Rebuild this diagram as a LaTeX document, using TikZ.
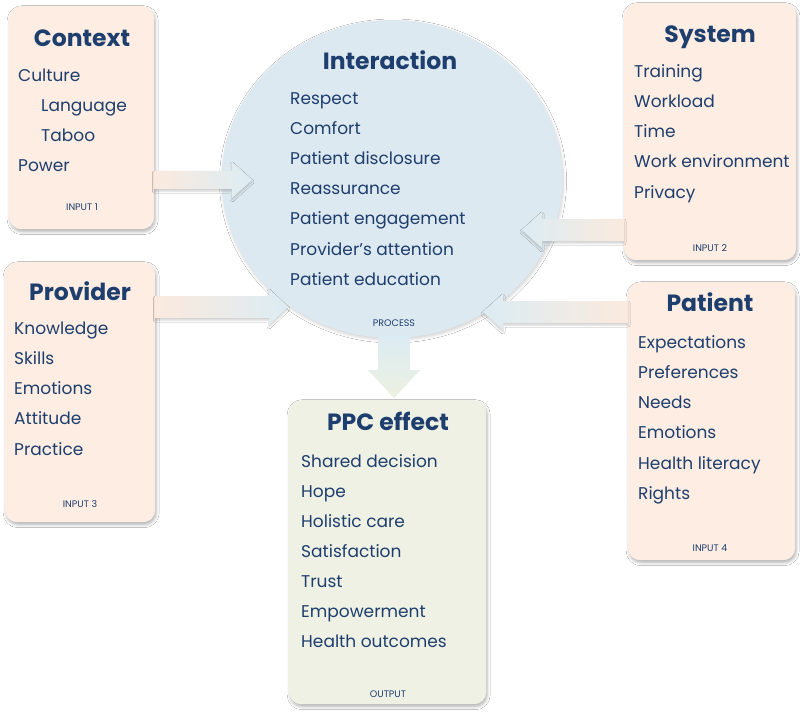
\documentclass[tikz,border=0pt]{standalone}
\usepackage{fontspec}
\setmainfont{Poppins}
\usetikzlibrary{shapes.geometric,shadows.blur,calc}
\definecolor{navy}{RGB}{30,62,110}
\definecolor{peach}{RGB}{253,237,226}
\definecolor{circ}{RGB}{221,233,240}
\definecolor{green}{RGB}{238,241,228}
\definecolor{peachA}{RGB}{251,234,222}
\definecolor{blueA}{RGB}{220,236,243}
\definecolor{greenA}{RGB}{236,240,224}
\tikzset{
  box/.style={draw=none, rounded corners=12pt, anchor=north west, inner sep=0pt,
    blur shadow={shadow xshift=1pt, shadow yshift=-2.5pt, shadow blur radius=3pt, shadow opacity=30}},
  ashadow/.style={blur shadow={shadow xshift=0pt, shadow yshift=-2pt, shadow blur radius=2pt, shadow opacity=20}},
  item/.style={anchor=base west, inner sep=0pt, text=navy, font=\fontsize{17}{20}\selectfont},
  ttl/.style={anchor=base, inner sep=0pt, text=navy, font=\fontsize{23.5}{28}\selectfont\bfseries},
  lbl/.style={anchor=base, inner sep=0pt, text=navy, font=\fontsize{9.5}{11}\selectfont},
}
\begin{document}
\begin{tikzpicture}[x=1pt,y=-1pt]
\useasboundingbox[fill=white] (0,0) rectangle (800,714);
% containers
\node[ellipse, fill=circ, minimum width=341pt, minimum height=318pt, inner sep=0pt,
  blur shadow={shadow xshift=1pt, shadow yshift=-2pt, shadow blur radius=3pt, shadow opacity=18}] (int) at (392,179) {};
\node[box, fill=peach, minimum width=145pt, minimum height=223pt] (ctx) at (9,6) {};
\node[box, fill=peach, minimum width=172pt, minimum height=257pt] (sys) at (624,3) {};
\node[box, fill=peach, minimum width=150pt, minimum height=260pt] (prv) at (5,262) {};
\node[box, fill=peach, minimum width=167pt, minimum height=278pt] (pat) at (628,282) {};
\node[box, fill=green, minimum width=197pt, minimum height=304pt] (ppc) at (289,400) {};
% arrow tips
\coordinate (t1) at (252,180);
\coordinate (t2) at (522,230);
\coordinate (t3) at (288,307);
\coordinate (t4) at (483,312);
\coordinate (t5) at (394,398);
\coordinate (s1) at (t1 -| ctx.east);
\coordinate (s2) at (t2 -| sys.west);
\coordinate (s3) at (t3 -| prv.east);
\coordinate (s4) at (t4 -| pat.west);
\coordinate (s5) at (394,336);
% block arrows
\path[ashadow, left color=peachA, right color=blueA]
  (s1) ++(0,-9) -- ($(t1)+(-20,-9)$) -- ($(t1)+(-20,-18)$) -- (t1) -- ($(t1)+(-20,18)$) -- ($(t1)+(-20,9)$) -- ($(s1)+(0,9)$) -- cycle;
\path[ashadow, left color=blueA, right color=peachA]
  (s2) ++(0,-11) -- ($(t2)+(20,-11)$) -- ($(t2)+(20,-18)$) -- (t2) -- ($(t2)+(20,18)$) -- ($(t2)+(20,11)$) -- ($(s2)+(0,11)$) -- cycle;
\path[ashadow, left color=peachA, right color=blueA]
  (s3) ++(0,-11) -- ($(t3)+(-19,-11)$) -- ($(t3)+(-19,-18)$) -- (t3) -- ($(t3)+(-19,18)$) -- ($(t3)+(-19,11)$) -- ($(s3)+(0,11)$) -- cycle;
\path[ashadow, left color=blueA, right color=peachA]
  (s4) ++(0,-11) -- ($(t4)+(20,-11)$) -- ($(t4)+(20,-18)$) -- (t4) -- ($(t4)+(20,18)$) -- ($(t4)+(20,11)$) -- ($(s4)+(0,11)$) -- cycle;
\path[top color=blueA, bottom color=greenA]
  (s5) ++(-16,0) -- ($(t5)+(-16,-28)$) -- ($(t5)+(-26,-28)$) -- (t5) -- ($(t5)+(26,-28)$) -- ($(t5)+(16,-28)$) -- ($(s5)+(16,0)$) -- cycle;
% Context
\node[ttl] (ctxT) at (82,47) {Context};
\node[item] (ctx1) at (18,82) {Culture};
\node[item] (ctx2) at (41,112) {Language};
\node[item] (ctx3) at (41,142) {Taboo};
\node[item] (ctx4) at (18,172) {Power};
\node[lbl] (ctxL) at (82,211) {INPUT 1};
% System
\node[ttl] (sysT) at (710,43) {System};
\node[item] (sys1) at (634,78) {Training};
\node[item] (sys2) at (634,108) {Workload};
\node[item] (sys3) at (634,138) {Time};
\node[item] (sys4) at (634,168) {Work environment};
\node[item] (sys5) at (634,198) {Privacy};
\node[lbl] (sysL) at (710,251) {INPUT 2};
% Provider
\node[ttl] (prvT) at (80,300) {Provider};
\node[item] (prv1) at (14,334) {Knowledge};
\node[item] (prv2) at (14,364) {Skills};
\node[item] (prv3) at (14,394) {Emotions};
\node[item] (prv4) at (14,424) {Attitude};
\node[item] (prv5) at (14,455) {Practice};
\node[lbl] (prvL) at (80,507) {INPUT 3};
% Patient
\node[ttl] (patT) at (710,311) {Patient};
\node[item] (pat1) at (638,348) {Expectations};
\node[item] (pat2) at (638,378) {Preferences};
\node[item] (pat3) at (638,408) {Needs};
\node[item] (pat4) at (638,438) {Emotions};
\node[item] (pat5) at (638,469) {Health literacy};
\node[item] (pat6) at (638,499) {Rights};
\node[lbl] (patL) at (710,551) {INPUT 4};
% Interaction
\node[ttl] (intT) at (390,70) {Interaction};
\node[item] (int1) at (290,105) {Respect};
\node[item] (int2) at (290,135) {Comfort};
\node[item] (int3) at (290,165) {Patient disclosure};
\node[item] (int4) at (290,195) {Reassurance};
\node[item] (int5) at (290,225) {Patient engagement};
\node[item] (int6) at (290,255) {Provider's attention};
\node[item] (int7) at (290,285) {Patient education};
\node[lbl] (intL) at (394,326) {PROCESS};
% PPC effect
\node[ttl] (ppcT) at (388,430) {PPC effect};
\node[item] (ppc1) at (301,467) {Shared decision};
\node[item] (ppc2) at (301,497) {Hope};
\node[item] (ppc3) at (301,527) {Holistic care};
\node[item] (ppc4) at (301,557) {Satisfaction};
\node[item] (ppc5) at (301,587) {Trust};
\node[item] (ppc6) at (301,617) {Empowerment};
\node[item] (ppc7) at (301,647) {Health outcomes};
\node[lbl] (ppcL) at (388,697) {OUTPUT};
\end{tikzpicture}
\end{document}
